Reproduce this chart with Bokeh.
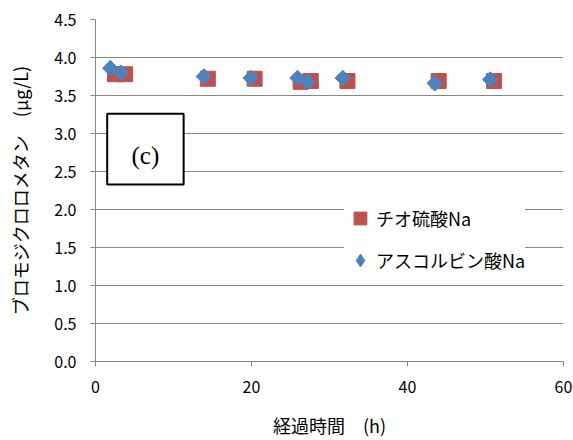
import math
from bokeh.plotting import figure
from bokeh.models import (ColumnDataSource, FixedTicker, Legend, LegendItem,
                          BoxAnnotation, Label, Range1d)
from bokeh.embed import file_html
from bokeh.resources import INLINE

# ---- data ----
thio_x = [2.5, 3.8, 14.4, 20.4, 26.3, 27.6, 32.3, 44.0, 51.1]
thio_y = [3.78, 3.78, 3.72, 3.72, 3.68, 3.69, 3.69, 3.69, 3.69]
asc_x = [1.9, 3.25, 13.9, 19.9, 25.9, 27.2, 31.7, 43.5, 50.6]
asc_y = [3.86, 3.80, 3.75, 3.73, 3.73, 3.68, 3.73, 3.66, 3.71]
series_names = ["チオ硫酸Na", "アスコルビン酸Na"]
x_ticks = [0, 20, 40, 60]
y_ticks = [0.0, 0.5, 1.0, 1.5, 2.0, 2.5, 3.0, 3.5, 4.0, 4.5]
y_tick_labels = {v: f"{v:.1f}" for v in y_ticks}
x_label = "経過時間　(h)"
y_label = "ブロモジクロロメタン　(μg/L)"
panel_label = "(c)"
panel_box = dict(left=1.5, right=11.3, bottom=2.33, top=3.26)
panel_text_pos = dict(x=6.4, y=2.71)

FONT = "Noto Sans CJK JP"
GRID = "#868686"
RED = "#C0504D"
BLUE = "#4F81BD"

p = figure(width=573, height=440, output_backend="svg", toolbar_location=None,
           x_range=Range1d(0, 60), y_range=Range1d(0, 4.5),
           min_border_left=95, min_border_right=10, min_border_top=19,
           min_border_bottom=72)
p.outline_line_color = None
p.background_fill_color = "white"
p.border_fill_color = "white"

p.xgrid.grid_line_color = None
p.ygrid.grid_line_color = GRID
p.ygrid.grid_line_width = 1
p.ygrid.ticker = FixedTicker(ticks=y_ticks)

for ax in (p.xaxis[0], p.yaxis[0]):
    ax.axis_line_color = GRID
    ax.major_tick_line_color = GRID
    ax.minor_tick_line_color = None
    ax.major_tick_in = 0
    ax.major_tick_out = 5
    ax.major_label_text_font = FONT
    ax.major_label_text_font_size = "16px"
    ax.major_label_text_color = "black"
    ax.axis_label_text_font = FONT
    ax.axis_label_text_font_size = "18px"
    ax.axis_label_text_font_style = "normal"
    ax.axis_label_text_color = "black"

p.xaxis.ticker = FixedTicker(ticks=x_ticks)
p.xaxis.major_label_standoff = 14
p.xaxis.axis_label = x_label
p.xaxis.axis_label_standoff = 16

p.yaxis.ticker = FixedTicker(ticks=y_ticks)
p.yaxis.major_label_overrides = y_tick_labels
p.yaxis.major_label_standoff = 14
p.yaxis.axis_label = y_label
p.yaxis.axis_label_standoff = 18

src_t = ColumnDataSource(dict(x=thio_x, y=thio_y))
src_a = ColumnDataSource(dict(x=asc_x, y=asc_y))

r_t = p.scatter("x", "y", source=src_t, marker="square", size=15,
                fill_color=RED, line_color=RED)
# legend symbol for the diamond series (legend glyphs are drawn unrotated);
# it sits fully hidden under the rotated squares drawn next
r_a_leg = p.scatter("x", "y", source=src_a, marker="diamond", size=15,
                    fill_color=BLUE, line_color=BLUE)
r_a = p.scatter("x", "y", source=src_a, marker="square", size=11,
                angle=math.pi / 4, fill_color=BLUE, line_color=BLUE)

box = BoxAnnotation(**panel_box, fill_color="white", fill_alpha=1.0,
                    line_color="black", line_width=2, line_alpha=1.0)
p.add_layout(box)
p.add_layout(Label(**panel_text_pos, text=panel_label,
                   text_font="Liberation Serif", text_font_size="25px",
                   text_align="center", text_baseline="middle",
                   text_color="black"))

legend = Legend(items=[LegendItem(label=series_names[0], renderers=[r_t]),
                       LegendItem(label=series_names[1], renderers=[r_a_leg])],
                location=(249, 85), orientation="vertical")
legend.background_fill_color = "white"
legend.background_fill_alpha = 1.0
legend.border_line_color = None
legend.label_text_font = FONT
legend.label_text_font_size = "18px"
legend.label_text_color = "black"
legend.glyph_width = 32
legend.glyph_height = 32
legend.label_height = 20
legend.spacing = 10
legend.padding = 2
legend.margin = 0
legend.label_standoff = -7
p.add_layout(legend)

open("out.html", "w").write(file_html(p, INLINE))
